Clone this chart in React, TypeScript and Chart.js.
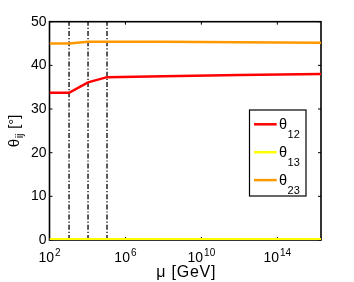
import { useEffect, useRef } from "react";
import { Chart, registerables } from "chart.js";

Chart.register(...registerables);

// Energy scale mu [GeV] at which the curves are sampled
const muGeV = [1e2, 1.07e3, 1.07e4, 1.07e5, 1e8, 1e12, 2e16];
// Mixing angles [degrees]
const theta12 = [33.7, 33.7, 36.1, 37.3, 37.5, 37.8, 38.0];
const theta13 = [0.15, 0.15, 0.15, 0.15, 0.15, 0.15, 0.15];
const theta23 = [45.0, 45.0, 45.4, 45.4, 45.4, 45.3, 45.2];
// Threshold scales (dash-dot vertical lines)
const thresholds = [1.07e3, 1.07e4, 1.07e5];
// Axis ticks
const xTickExponents = [2, 6, 10, 14];
const yTicks = [0, 10, 20, 30, 40, 50];
const xMin = 1e2;
const xMax = 2e16;
const yMin = 0;
const yMax = 50;
// Legend
const seriesSubscripts = ["12", "13", "23"];
const seriesColors = ["#ff0000", "#ffff00", "#ff9900"];
const xTitleText = "\u03bc [GeV]";

const FONT = "'Liberation Sans', Arial, Helvetica, sans-serif";

const decorPlugin = {
  id: "decor",
  beforeDatasetsDraw(chart: any) {
    const { ctx, chartArea: a, scales } = chart;
    const xs = scales.x;
    const ys = scales.y;
    ctx.save();
    ctx.fillStyle = "#ffffff";
    ctx.fillRect(a.left, a.top, a.right - a.left, a.bottom - a.top);
    ctx.strokeStyle = "#000";
    ctx.lineWidth = 1.6;
    ctx.strokeRect(a.left, a.top, a.right - a.left, a.bottom - a.top);
    ctx.lineWidth = 1;
    const tl = 3;
    ctx.beginPath();
    for (const v of yTicks) {
      const py = ys.getPixelForValue(v);
      ctx.moveTo(a.left, py);
      ctx.lineTo(a.left + tl, py);
      ctx.moveTo(a.right, py);
      ctx.lineTo(a.right - tl, py);
    }
    for (const e of xTickExponents) {
      const px = xs.getPixelForValue(Math.pow(10, e));
      ctx.moveTo(px, a.bottom);
      ctx.lineTo(px, a.bottom - tl);
      ctx.moveTo(px, a.top);
      ctx.lineTo(px, a.top + tl);
    }
    ctx.stroke();
    ctx.restore();
  },
  afterDatasetsDraw(chart: any) {
    const { ctx, chartArea: a, scales } = chart;
    const xs = scales.x;
    ctx.save();
    ctx.fillStyle = "#000";
    ctx.textBaseline = "alphabetic";
    ctx.textAlign = "left";
    // x tick labels 10^n
    for (const e of xTickExponents) {
      const px = xs.getPixelForValue(Math.pow(10, e));
      ctx.font = `14px ${FONT}`;
      const wb = ctx.measureText("10").width;
      ctx.font = `10px ${FONT}`;
      const we = ctx.measureText(String(e)).width;
      const x0 = px - (wb + we + 1) / 2;
      ctx.font = `14px ${FONT}`;
      ctx.fillText("10", x0, a.bottom + 21.7);
      ctx.font = `10px ${FONT}`;
      ctx.fillText(String(e), x0 + wb + 1, a.bottom + 15.7);
    }
    // x title
    ctx.save();
    ctx.font = `16px ${FONT}`;
    try {
      (ctx as any).letterSpacing = "0.8px";
    } catch (err) {}
    ctx.textAlign = "center";
    ctx.fillText(xTitleText, (a.left + a.right) / 2 + 1, a.bottom + 36.7);
    ctx.restore();
    // y title rotated
    ctx.save();
    ctx.translate(19, (a.top + a.bottom) / 2);
    ctx.rotate(-Math.PI / 2);
    ctx.textAlign = "left";
    ctx.font = `15px ${FONT}`;
    const wTheta = ctx.measureText("\u03b8").width;
    ctx.font = `11px ${FONT}`;
    const wSub = ctx.measureText("ij").width;
    ctx.font = `15px ${FONT}`;
    const wRest = ctx.measureText(" [\u00b0]").width;
    const total = wTheta + wSub + wRest + 1;
    let cx = -total / 2;
    ctx.fillText("\u03b8", cx, 0);
    cx += wTheta + 0.5;
    ctx.font = `11px ${FONT}`;
    ctx.fillText("ij", cx, 4);
    cx += wSub + 0.5;
    ctx.font = `15px ${FONT}`;
    ctx.fillText(" [\u00b0]", cx, 0);
    ctx.restore();
    // legend
    const bx = 249.5, by = 110, bw = 56.5, bh = 86;
    ctx.fillStyle = "#fff";
    ctx.fillRect(bx, by, bw, bh);
    ctx.strokeStyle = "#000";
    ctx.lineWidth = 1.2;
    ctx.strokeRect(bx, by, bw, bh);
    seriesSubscripts.forEach((s, i) => {
      const ly = 124.3 + i * 27.9;
      ctx.strokeStyle = seriesColors[i];
      ctx.lineWidth = 2.5;
      ctx.beginPath();
      ctx.moveTo(254, ly);
      ctx.lineTo(276.7, ly);
      ctx.stroke();
      ctx.fillStyle = "#000";
      ctx.textAlign = "left";
      ctx.font = `14.5px ${FONT}`;
      ctx.fillText("\u03b8", 279, ly + 5);
      const wt = ctx.measureText("\u03b8").width;
      ctx.font = `11px ${FONT}`;
      ctx.fillText(s, 279 + wt + 0.5, ly + 13.5);
    });
    ctx.restore();
  },
};

export default function App() {
  const ref = useRef<HTMLCanvasElement | null>(null);
  useEffect(() => {
    if (!ref.current) return;
    const pts = (ys: number[]) => muGeV.map((x, i) => ({ x, y: ys[i] }));
    const thrSets = thresholds.map((t) => ({
      label: "thr",
      data: [
        { x: t, y: yMin },
        { x: t, y: yMax },
      ],
      borderColor: "#000",
      borderWidth: 1.3,
      borderDash: [5, 2, 1.2, 2],
      pointRadius: 0,
      order: 10,
    }));
    const chart = new Chart(ref.current, {
      type: "line",
      data: {
        datasets: [
          ...thrSets,
          { label: "t12", data: pts(theta12), borderColor: seriesColors[0], borderWidth: 2.5, pointRadius: 0, order: 1 },
          { label: "t13", data: pts(theta13), borderColor: seriesColors[1], borderWidth: 2.5, pointRadius: 0, order: 1 },
          { label: "t23", data: pts(theta23), borderColor: seriesColors[2], borderWidth: 2.5, pointRadius: 0, order: 1 },
        ] as any,
      },
      options: {
        animation: false,
        responsive: false,
        maintainAspectRatio: false,
        layout: { padding: { top: 21.7, right: 33, left: 0, bottom: 0 } },
        plugins: { legend: { display: false }, tooltip: { enabled: false } },
        scales: {
          x: {
            type: "logarithmic",
            min: xMin,
            max: xMax,
            afterBuildTicks: (s: any) => {
              s.ticks = xTickExponents.map((e) => ({ value: Math.pow(10, e) }));
            },
            afterFit: (s: any) => {
              s.height = 42;
            },
            ticks: { display: false },
            grid: { display: false, drawTicks: false },
            border: { display: false },
          },
          y: {
            min: yMin,
            max: yMax,
            afterBuildTicks: (s: any) => {
              s.ticks = yTicks.map((v) => ({ value: v }));
            },
            afterFit: (s: any) => {
              s.width = 49.5;
            },
            ticks: { color: "#000", padding: 3, font: { family: FONT, size: 14 } },
            grid: { display: false, drawTicks: false },
            border: { display: false },
          },
        },
      } as any,
      plugins: [decorPlugin],
    });
    return () => chart.destroy();
  }, []);
  return (
    <div style={{ position: "absolute", left: 0, top: 0, width: 354, height: 282, background: "#fff" }}>
      <canvas ref={ref} width={354} height={282} style={{ width: 354, height: 282, display: "block" }} />
    </div>
  );
}
